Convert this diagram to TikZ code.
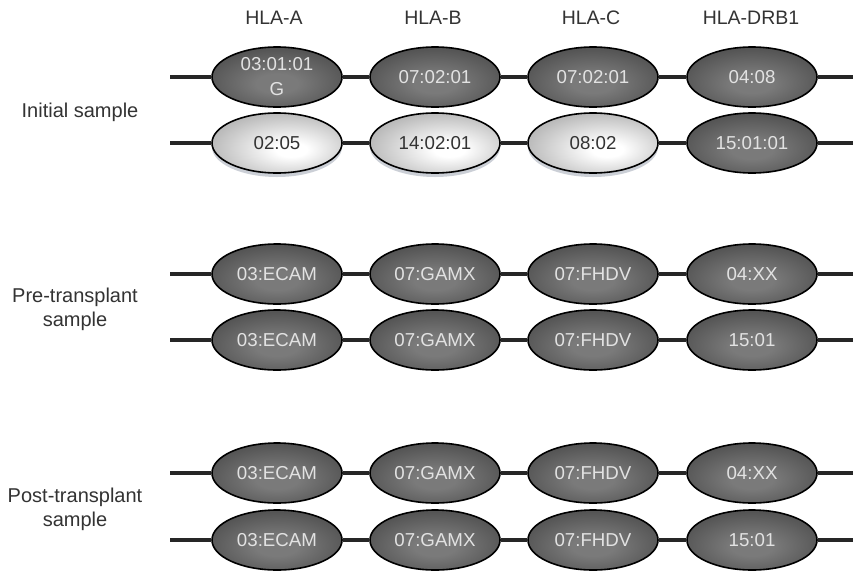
\documentclass[tikz,border=0pt]{standalone}
\usepackage{fontspec}
\setmainfont{Liberation Sans}
\usetikzlibrary{shapes.geometric,shadows}

\definecolor{dkin}{HTML}{7A7A7A}
\definecolor{dkout}{HTML}{2A2A2A}
\definecolor{ltmid}{HTML}{BEBEBE}
\definecolor{ltout}{HTML}{858585}
\definecolor{txtdark}{HTML}{333333}
\definecolor{txtlight}{HTML}{E2E2E2}
\definecolor{shadowcol}{HTML}{A9B0BC}

% radial fills for the allele ovals
\pgfdeclareradialshading{darkoval}{\pgfpoint{0bp}{-6bp}}{%
  color(0bp)=(dkin); color(8bp)=(dkin); color(50bp)=(dkout); color(80bp)=(dkout)}
\pgfdeclareradialshading{lightoval}{\pgfpoint{6bp}{-6bp}}{%
  color(0bp)=(white); color(6bp)=(white); color(28bp)=(ltmid);
  color(50bp)=(ltout); color(80bp)=(ltout)}

\tikzset{
  oval/.style={ellipse, draw=black, line width=1.6pt, minimum width=130pt,
    minimum height=60pt, inner sep=0pt, font=\fontsize{18.7}{25}\selectfont,
    align=center},
  darkallele/.style={oval, shading=darkoval, text=txtlight},
  lightallele/.style={oval, shading=lightoval, text=txtdark,
    drop shadow={shadow xshift=0pt, shadow yshift=-4pt, fill=shadowcol, opacity=0.6}},
  chrom/.style={line width=4pt, black!85},
  locus/.style={font=\fontsize{19.5}{24}\selectfont, text=txtdark},
  sample/.style={font=\fontsize{20}{24}\selectfont, text=txtdark, align=center},
}

\begin{document}
\begin{tikzpicture}[x=1pt,y=-1pt]
\useasboundingbox[fill=white] (0,0) rectangle (853,576);

% locus headers
\node[locus] (hA) at (274,18) {HLA-A};
\node[locus] (hB) at (433,18) {HLA-B};
\node[locus] (hC) at (591,18) {HLA-C};
\node[locus] (hD) at (751,18) {HLA-DRB1};

% sample labels
\node[sample] (sInit) at (80,112) {Initial sample};
\node[sample] (sPre)  at (75,309) {Pre-transplant\\sample};
\node[sample] (sPost) at (75,509) {Post-transplant\\sample};

% Initial sample
\coordinate (r1s) at (170,77);  \coordinate (r1e) at (853,77);
\node[darkallele] (r1a) at (277,77) {03:01:01\\G};
\node[darkallele] (r1b) at (435,77) {07:02:01};
\node[darkallele] (r1c) at (593,77) {07:02:01};
\node[darkallele] (r1d) at (752,77) {04:08};

\coordinate (r2s) at (170,143); \coordinate (r2e) at (853,143);
\node[lightallele] (r2a) at (277,143) {02:05};
\node[lightallele] (r2b) at (435,143) {14:02:01};
\node[lightallele] (r2c) at (593,143) {08:02};
\node[darkallele]  (r2d) at (752,143) {15:01:01};

% Pre-transplant sample
\coordinate (r3s) at (170,274); \coordinate (r3e) at (853,274);
\node[darkallele] (r3a) at (277,274) {03:ECAM};
\node[darkallele] (r3b) at (435,274) {07:GAMX};
\node[darkallele] (r3c) at (593,274) {07:FHDV};
\node[darkallele] (r3d) at (752,274) {04:XX};

\coordinate (r4s) at (170,340); \coordinate (r4e) at (853,340);
\node[darkallele] (r4a) at (277,340) {03:ECAM};
\node[darkallele] (r4b) at (435,340) {07:GAMX};
\node[darkallele] (r4c) at (593,340) {07:FHDV};
\node[darkallele] (r4d) at (752,340) {15:01};

% Post-transplant sample
\coordinate (r5s) at (170,473); \coordinate (r5e) at (853,473);
\node[darkallele] (r5a) at (277,473) {03:ECAM};
\node[darkallele] (r5b) at (435,473) {07:GAMX};
\node[darkallele] (r5c) at (593,473) {07:FHDV};
\node[darkallele] (r5d) at (752,473) {04:XX};

\coordinate (r6s) at (170,540); \coordinate (r6e) at (853,540);
\node[darkallele] (r6a) at (277,540) {03:ECAM};
\node[darkallele] (r6b) at (435,540) {07:GAMX};
\node[darkallele] (r6c) at (593,540) {07:FHDV};
\node[darkallele] (r6d) at (752,540) {15:01};

% chromosome strands joining the loci
\foreach \r in {r1,r2,r3,r4,r5,r6}{
  \draw[chrom] (\r s) -- (\r a);
  \draw[chrom] (\r a) -- (\r b);
  \draw[chrom] (\r b) -- (\r c);
  \draw[chrom] (\r c) -- (\r d);
  \draw[chrom] (\r d) -- (\r e);
}
\end{tikzpicture}
\end{document}
